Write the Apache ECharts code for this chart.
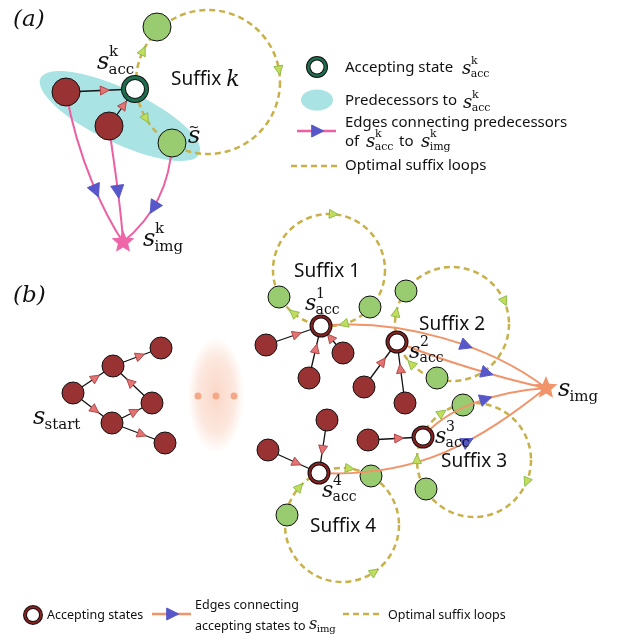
<!DOCTYPE html>
<html lang="en">
<head>
<meta charset="UTF-8" />
<title>Suffix loops</title>
<script src="https://cdn.jsdelivr.net/npm/echarts@6/dist/echarts.min.js"></script>
<style>html,body{margin:0;padding:0;background:#fff}</style>
</head>
<body>
<div id="main" style="width:619px;height:639px"></div>
<script>
// ---- panel (a) ----
var redA = [[66, 92], [109, 126]];
var greenA = [[157, 27], [172, 143]];
var accA = [[135, 89]];
var imgA = [[123, 242]];
var predA = [[120, 116, 88, 27, 25.5]];   // cx, cy, rx, ry, tilt (deg, clockwise)
var loopsA = [[208, 82, 72]];

// ---- panel (b) ----
var redB = [[73, 393], [113, 366], [161, 348], [152, 403], [112, 423], [165, 443],
            [266, 345], [309, 378], [343, 353], [364, 387], [405, 403], [368, 440], [327, 420], [268, 450]];
var greenB = [[279, 297], [370, 307], [406, 291], [437, 378], [463, 405], [426, 489], [371, 476], [287, 515]];
var accB = [[321, 326], [397, 342], [423, 437], [319, 473]];
var imgB = [[546, 388]];
var loopsB = [[329, 270, 56], [452, 324, 57], [474, 460, 57], [342, 525, 57]];
var fadeB = [[216, 395, 28, 58]];
var dotsB = [[198, 396], [216, 396], [234, 396]];

// straight edges with arrow (from -> to)
var treeEdges = [
  [66, 92, 135, 89], [109, 126, 135, 89],
  [73, 393, 113, 366], [113, 366, 161, 348], [152, 403, 113, 366],
  [73, 393, 112, 423], [112, 423, 152, 403], [112, 423, 165, 443],
  [266, 345, 321, 326], [309, 378, 321, 326], [343, 353, 321, 326],
  [364, 387, 397, 342], [405, 403, 397, 342],
  [368, 440, 423, 437], [327, 420, 319, 473], [268, 450, 319, 473]
];
// cubic curves: p0, c1, c2, p3
var pinkCurves = [
  [66, 92, 78, 160, 105, 215, 123, 242],
  [109, 126, 114, 165, 121, 205, 123, 242],
  [172, 143, 170, 190, 150, 220, 123, 242]
];
var orangeCurves = [
  [321, 326, 400, 318, 490, 345, 546, 388],
  [397, 342, 440, 360, 500, 378, 546, 388],
  [423, 437, 445, 410, 490, 392, 546, 388],
  [319, 473, 420, 478, 480, 440, 546, 388]
];
// loop index, angle (deg), direction
var loopArrows = [
  [0, 205, 1], [0, 350, 1], [0, 150, -1],
  [1, 274, 1], [1, 129, 1], [1, 74, 1],
  [2, 191, 1], [2, 336, 1], [2, 135, 1],
  [3, 180, 1], [3, 235, 1], [3, 22, 1],
  [4, 277, 1], [4, 221, 1], [4, 56, -1]
];

// legend marks
var legRingA = [[317, 67]];
var legRingB = [[33, 615]];
var legEllipse = [[317, 100, 16, 10.5, 0]];
var legPink = [[297, 131, 336, 131]];
var legOrange = [[152, 614, 191, 614]];
var legDash = [[291, 166, 340, 166], [343, 614, 383, 614]];

// texts
var panelTags = [['(a)', 13, 20], ['(b)', 13, 296]];
var suffixNames = [['Suffix 1', 327, 272], ['Suffix 2', 452, 325], ['Suffix 3', 474, 462], ['Suffix 4', 343, 527]];
var legendTexts = [
  ['Accepting state', 345, 68, 15], ['Predecessors to', 345, 101, 15],
  ['Edges connecting predecessors', 345, 123, 15], ['of', 345, 142, 15], ['to', 399, 142, 15],
  ['Optimal suffix loops', 345, 166, 15],
  ['Accepting states', 47, 615, 12.5], ['Edges connecting', 195, 605, 12.5],
  ['accepting states to', 195, 626, 12.5], ['Optimal suffix loops', 388, 615, 12.5]
];
// s-left, s-middle, sup, sub, size
var mathLabels = [
  [97, 63, 'k', 'acc', 24], [143, 240, 'k', 'img', 24], [188, 137, '', '', 24],
  [33, 418, '', 'start', 24], [305, 304, '1', 'acc', 22], [409, 352, '2', 'acc', 22],
  [435, 437, '3', 'acc', 22], [322, 491, '4', 'acc', 22], [558, 390, '', 'img', 24],
  [462, 69, 'k', 'acc', 18], [463, 103, 'k', 'acc', 18], [366, 142, 'k', 'acc', 18],
  [421, 142, 'k', 'img', 18], [309, 625, '', 'img', 16]
];

var SANS = '"Noto Sans", sans-serif';
var SERIF = '"DejaVu Serif", serif';
var LOOP = '#c8b04a';

var allLoops = loopsA.concat(loopsB);

function P(api, x, y) { return api.coord([x, y]); }
function L(api, d) { return api.size([d, 0])[0]; }

function triangle(c, ang, size, fill, stroke) {
  var dx = Math.cos(ang), dy = Math.sin(ang), px = -dy, py = dx;
  return {
    type: 'polygon',
    shape: { points: [
      [c[0] + dx * size * 0.6, c[1] + dy * size * 0.6],
      [c[0] - dx * size * 0.4 + px * size * 0.5, c[1] - dy * size * 0.4 + py * size * 0.5],
      [c[0] - dx * size * 0.4 - px * size * 0.5, c[1] - dy * size * 0.4 - py * size * 0.5]
    ] },
    style: { fill: fill, stroke: stroke, lineWidth: 1 }
  };
}

function bez(p, t) {
  var u = 1 - t;
  var a = u * u * u, b = 3 * u * u * t, c = 3 * u * t * t, d = t * t * t;
  return [a * p[0][0] + b * p[1][0] + c * p[2][0] + d * p[3][0],
          a * p[0][1] + b * p[1][1] + c * p[2][1] + d * p[3][1]];
}
function bezAngle(p, t) {
  var u = 1 - t;
  var dx = 3 * u * u * (p[1][0] - p[0][0]) + 6 * u * t * (p[2][0] - p[1][0]) + 3 * t * t * (p[3][0] - p[2][0]);
  var dy = 3 * u * u * (p[1][1] - p[0][1]) + 6 * u * t * (p[2][1] - p[1][1]) + 3 * t * t * (p[3][1] - p[2][1]);
  return Math.atan2(dy, dx);
}

function custom(name, data, z, draw) {
  return {
    type: 'custom', name: name, coordinateSystem: 'cartesian2d',
    data: data, z: z, silent: true, animation: false, clip: false,
    renderItem: function (params, api) { return draw(api, params.dataIndex); }
  };
}

function circleDraw(r, fill) {
  return function (api) {
    var c = P(api, api.value(0), api.value(1));
    return { type: 'circle', shape: { cx: c[0], cy: c[1], r: L(api, r) },
             style: { fill: fill, stroke: '#111', lineWidth: 1 } };
  };
}

function ringDraw(r, band, bw) {
  return function (api) {
    var c = P(api, api.value(0), api.value(1)), R = L(api, r);
    var ring = function (rr, f) { return { type: 'circle', shape: { cx: c[0], cy: c[1], r: rr }, style: { fill: f } }; };
    return { type: 'group', children: [
      ring(R, '#111'), ring(R - 1, band), ring(R - 1 - bw, '#111'), ring(R - 2 - bw, '#fff')
    ] };
  };
}

function ellipseDraw(fill) {
  return function (api) {
    var c = P(api, api.value(0), api.value(1));
    var rx = L(api, api.value(2)), ry = L(api, api.value(3));
    return { type: 'circle', x: c[0], y: c[1], scaleY: ry / rx,
             rotation: -api.value(4) * Math.PI / 180,
             shape: { cx: 0, cy: 0, r: rx }, style: { fill: fill } };
  };
}

function starDraw(fill, R) {
  return function (api) {
    var c = P(api, api.value(0), api.value(1)), pts = [];
    for (var i = 0; i < 10; i++) {
      var a = -Math.PI / 2 + i * Math.PI / 5, rr = i % 2 ? R * 0.45 : R;
      pts.push([c[0] + rr * Math.cos(a), c[1] + rr * Math.sin(a)]);
    }
    return { type: 'polygon', shape: { points: pts }, style: { fill: fill } };
  };
}

function curveDraw(list, color, arrowT, arrowSize) {
  return function (api, i) {
    var r = list[i];
    var p = [P(api, r[0], r[1]), P(api, r[2], r[3]), P(api, r[4], r[5]), P(api, r[6], r[7])];
    return { type: 'group', children: [
      { type: 'bezierCurve',
        shape: { x1: p[0][0], y1: p[0][1], cpx1: p[1][0], cpy1: p[1][1], cpx2: p[2][0], cpy2: p[2][1], x2: p[3][0], y2: p[3][1] },
        style: { stroke: color, lineWidth: 2, fill: null } },
      triangle(bez(p, arrowT), bezAngle(p, arrowT), arrowSize, '#5757c9', '#5757c9')
    ] };
  };
}

function textEl(x, y, text, font, align) {
  return { type: 'text', x: x, y: y,
           style: { text: text, font: font, fill: '#111', align: align || 'left', verticalAlign: 'middle' } };
}

var chart = echarts.init(document.getElementById('main'));

var option = {
  animation: false,
  grid: { left: 0, right: 0, top: 0, bottom: 0 },
  xAxis: { type: 'value', min: 0, max: 619, show: false },
  yAxis: { type: 'value', min: 0, max: 639, inverse: true, show: false },
  series: [
    custom('pred', predA, 1, ellipseDraw('#aae3e4')),
    custom('fade', fadeB, 1, function (api) {
      var c = P(api, api.value(0), api.value(1));
      var rx = L(api, api.value(2)), ry = L(api, api.value(3));
      return { type: 'circle', x: c[0], y: c[1], scaleX: rx / ry, shape: { cx: 0, cy: 0, r: ry },
        style: { fill: { type: 'radial', x: 0.5, y: 0.5, r: 0.5, colorStops: [
          { offset: 0, color: 'rgba(246,176,146,0.5)' },
          { offset: 0.65, color: 'rgba(246,176,146,0.3)' },
          { offset: 1, color: 'rgba(246,176,146,0)' }] } } };
    }),
    custom('dots', dotsB, 2, function (api) {
      var c = P(api, api.value(0), api.value(1));
      return { type: 'circle', shape: { cx: c[0], cy: c[1], r: 3.5 }, style: { fill: '#f3a987' } };
    }),
    custom('loops', allLoops, 2, function (api) {
      var c = P(api, api.value(0), api.value(1));
      return { type: 'circle', shape: { cx: c[0], cy: c[1], r: L(api, api.value(2)) },
               style: { fill: null, stroke: LOOP, lineWidth: 2.5, lineDash: [6, 4] } };
    }),
    custom('pink', pinkCurves, 3, curveDraw(pinkCurves, '#ec5fa0', 0.55, 13)),
    custom('tree', treeEdges, 3, function (api) {
      var a = P(api, api.value(0), api.value(1)), b = P(api, api.value(2), api.value(3));
      var t = 0.55, m = [a[0] + (b[0] - a[0]) * t, a[1] + (b[1] - a[1]) * t];
      return { type: 'group', children: [
        { type: 'line', shape: { x1: a[0], y1: a[1], x2: b[0], y2: b[1] }, style: { stroke: '#111', lineWidth: 1.3 } },
        triangle(m, Math.atan2(b[1] - a[1], b[0] - a[0]), 9, '#e27474', '#b24848')
      ] };
    }),
    custom('redA', redA, 4, circleDraw(14, '#993333')),
    custom('greenA', greenA, 4, circleDraw(14, '#99cb70')),
    custom('redB', redB, 4, circleDraw(11, '#993333')),
    custom('greenB', greenB, 4, circleDraw(11, '#99cb70')),
    custom('orange', orangeCurves, 5, curveDraw(orangeCurves, '#f2946a', 0.6, 12)),
    custom('accA', accA, 6, ringDraw(14, '#1f6e50', 3)),
    custom('accB', accB, 6, ringDraw(11.5, '#8a2020', 2)),
    custom('imgA', imgA, 6, starDraw('#ef66a8', 12)),
    custom('imgB', imgB, 6, starDraw('#f2946a', 12)),
    custom('loopArrows', loopArrows, 7, function (api, i) {
      var la = loopArrows[i], lp = allLoops[la[0]];
      var th = la[1] * Math.PI / 180;
      var c = P(api, lp[0] + lp[2] * Math.cos(th), lp[1] + lp[2] * Math.sin(th));
      var ang = Math.atan2(Math.cos(th), -Math.sin(th)) + (la[2] < 0 ? Math.PI : 0);
      return triangle(c, ang, 9, '#c3dc5c', '#8cbf4a');
    }),
    // legend marks
    custom('legRingA', legRingA, 7, ringDraw(11, '#1f6e50', 2.5)),
    custom('legRingB', legRingB, 7, ringDraw(10, '#8a2020', 2)),
    custom('legEllipse', legEllipse, 7, ellipseDraw('#aae3e4')),
    custom('legPink', legPink, 7, function (api) {
      var a = P(api, api.value(0), api.value(1)), b = P(api, api.value(2), api.value(3));
      return { type: 'group', children: [
        { type: 'line', shape: { x1: a[0], y1: a[1], x2: b[0], y2: b[1] }, style: { stroke: '#ec5fa0', lineWidth: 2.5 } },
        triangle([(a[0] + b[0]) / 2, a[1]], 0, 12, '#5757c9', '#5757c9')
      ] };
    }),
    custom('legOrange', legOrange, 7, function (api) {
      var a = P(api, api.value(0), api.value(1)), b = P(api, api.value(2), api.value(3));
      return { type: 'group', children: [
        { type: 'line', shape: { x1: a[0], y1: a[1], x2: b[0], y2: b[1] }, style: { stroke: '#f2946a', lineWidth: 2.5 } },
        triangle([(a[0] + b[0]) / 2, a[1]], 0, 12, '#5757c9', '#5757c9')
      ] };
    }),
    custom('legDash', legDash, 7, function (api) {
      var a = P(api, api.value(0), api.value(1)), b = P(api, api.value(2), api.value(3));
      return { type: 'line', shape: { x1: a[0], y1: a[1], x2: b[0], y2: b[1] },
               style: { stroke: LOOP, lineWidth: 2.5, lineDash: [6, 4] } };
    }),
    // texts
    custom('tags', panelTags.map(function (t) { return [t[1], t[2]]; }), 8, function (api, i) {
      var c = P(api, api.value(0), api.value(1));
      return textEl(c[0], c[1], panelTags[i][0], 'italic 23px ' + SERIF);
    }),
    custom('suffixK', [[171, 80]], 8, function (api) {
      var c = P(api, api.value(0), api.value(1));
      return { type: 'text', x: c[0], y: c[1], style: {
        text: '{a|Suffix }{b|k}', fill: '#111', align: 'left', verticalAlign: 'middle',
        rich: { a: { fontFamily: 'Noto Sans', fontSize: 19, fill: '#111' },
                b: { fontFamily: 'DejaVu Serif', fontStyle: 'italic', fontSize: 22, fill: '#111' } } } };
    }),
    custom('suffixNames', suffixNames.map(function (t) { return [t[1], t[2]]; }), 8, function (api, i) {
      var c = P(api, api.value(0), api.value(1));
      return textEl(c[0], c[1], suffixNames[i][0], '19px ' + SANS, 'center');
    }),
    custom('legendTexts', legendTexts.map(function (t) { return [t[1], t[2]]; }), 8, function (api, i) {
      var c = P(api, api.value(0), api.value(1));
      return textEl(c[0], c[1], legendTexts[i][0], legendTexts[i][3] + 'px ' + SANS);
    }),
    custom('tilde', [[194, 128]], 8, function (api) {
      var c = P(api, api.value(0), api.value(1));
      return textEl(c[0], c[1], '~', '13px ' + SERIF, 'center');
    }),
    custom('math', mathLabels.map(function (m) { return [m[0], m[1]]; }), 8, function (api, i) {
      var m = mathLabels[i], c = P(api, api.value(0), api.value(1)), S = m[4];
      var s2 = Math.round(S * 0.62);
      var kids = [textEl(c[0], c[1], 's', 'italic ' + S + 'px ' + SERIF)];
      if (m[2]) kids.push(textEl(c[0] + S * 0.5, c[1] - S * 0.45, m[2], s2 + 'px ' + SERIF));
      if (m[3]) kids.push(textEl(c[0] + S * 0.48, c[1] + S * 0.3, m[3], s2 + 'px ' + SERIF));
      return { type: 'group', children: kids };
    })
  ]
};
chart.setOption(option);
</script>
</body>
</html>
